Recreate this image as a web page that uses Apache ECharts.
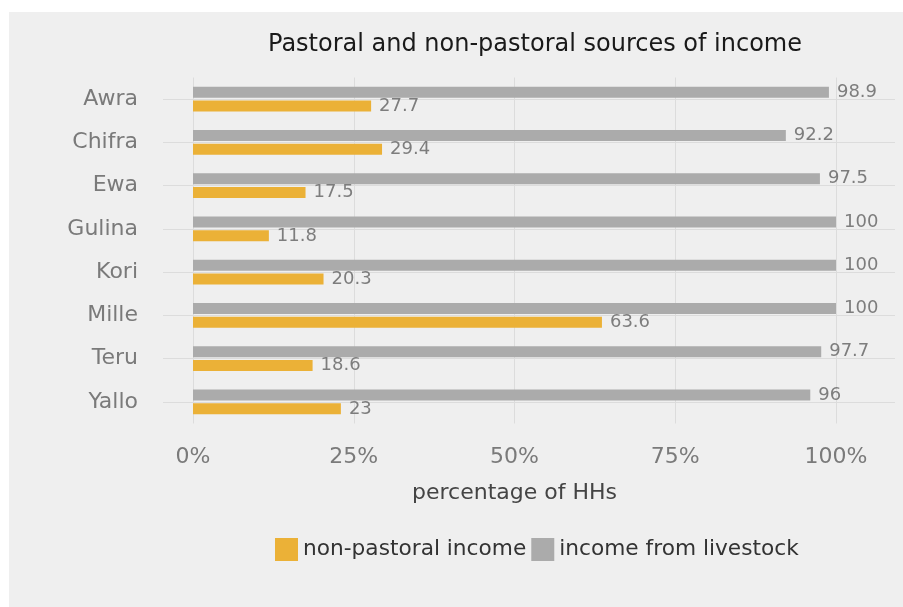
<!DOCTYPE html>
<html>
<head>
<meta charset="utf-8">
<script src="https://cdn.jsdelivr.net/npm/echarts@6/dist/echarts.min.js"></script>
<style type="text/css">
	body{
		margin: 0;
		background: #ffffff;
	}
	#panel{
		position: absolute;
		left: 9px;
		top: 12px;
		width: 894px;
		height: 595px;
		background: #efefef;
	}
	#income_chart_div{
		position: absolute;
		left: 0;
		top: 0;
		width: 903px;
		height: 607px;
	}
</style>
</head>
<body>
<div id="panel"></div>
<div id="income_chart_div"></div>
<script>
// 地区
var woredas = ['Awra', 'Chifra', 'Ewa', 'Gulina', 'Kori', 'Mille', 'Teru', 'Yallo'];
// 牲畜收入 (%)
var livestock_income = [98.9, 92.2, 97.5, 100, 100, 100, 97.7, 96];
// 非牧业收入 (%)
var non_pastoral_income = [27.7, 29.4, 17.5, 11.8, 20.3, 63.6, 18.6, 23];
// x轴刻度
var x_ticks = [0, 25, 50, 75, 100];

var font = 'DejaVu Sans';
var bar_label = {
	show: true,
	position: 'right',
	distance: 8,
	color: '#7d7d7d',
	fontSize: 18,
	fontFamily: font
};

var option = {
	animation: false,
	title: {
		text: 'Pastoral and non-pastoral sources of income',
		left: 530,
		textAlign: 'center',
		top: 28,
		textStyle: {
			color: '#1a1a1a',
			fontSize: 24,
			fontWeight: 'normal',
			fontFamily: font
		}
	},
	legend: {
		data: ['non-pastoral income', 'income from livestock'],
		left: 270,
		top: 533,
		icon: 'rect',
		itemWidth: 23,
		itemHeight: 23,
		itemGap: 5,
		textStyle: {
			color: '#333333',
			fontSize: 21.7,
			fontFamily: font
		}
	},
	grid: [
		{left: 193, right: 67, top: 77.5, height: 346},
		// 水平网格线（放在类别中心）
		{left: 163, right: 8, top: 99.1, height: 302.75}
	],
	xAxis: [
		{
			type: 'value',
			gridIndex: 0,
			min: x_ticks[0],
			max: x_ticks[x_ticks.length - 1],
			interval: x_ticks[1] - x_ticks[0],
			axisLine: {show: false},
			axisTick: {show: false},
			axisLabel: {
				formatter: '{value}%',
				margin: 23,
				color: '#7a7a7a',
				fontSize: 22,
				fontFamily: font
			},
			splitLine: {lineStyle: {color: '#dcdcdc', width: 1}},
			name: 'percentage of HHs',
			nameLocation: 'middle',
			nameGap: 59,
			nameTextStyle: {
				color: '#444444',
				fontSize: 22,
				fontFamily: font
			}
		},
		{
			type: 'value',
			gridIndex: 1,
			show: false
		}
	],
	yAxis: [
		{
			type: 'category',
			gridIndex: 0,
			data: woredas,
			inverse: true,
			axisLine: {show: false},
			axisTick: {show: false},
			splitLine: {show: false},
			axisLabel: {
				margin: 55,
				color: '#7a7a7a',
				fontSize: 22,
				fontFamily: font
			}
		},
		{
			type: 'value',
			gridIndex: 1,
			min: 0,
			max: 7,
			interval: 1,
			axisLine: {show: false},
			axisTick: {show: false},
			axisLabel: {show: false},
			splitLine: {show: true, lineStyle: {color: '#dcdcdc', width: 1}}
		}
	],
	series: [
		{
			name: 'income from livestock',
			type: 'bar',
			xAxisIndex: 0,
			yAxisIndex: 0,
			barWidth: 11,
			barGap: '27%',
			itemStyle: {color: '#ababab'},
			label: bar_label,
			data: livestock_income
		},
		{
			name: 'non-pastoral income',
			type: 'bar',
			xAxisIndex: 0,
			yAxisIndex: 0,
			barWidth: 11,
			barGap: '27%',
			itemStyle: {color: '#ebb137'},
			label: bar_label,
			data: non_pastoral_income
		}
	]
};

var income_chart = echarts.init(document.getElementById('income_chart_div'));
income_chart.setOption(option);
</script>
</body>
</html>
